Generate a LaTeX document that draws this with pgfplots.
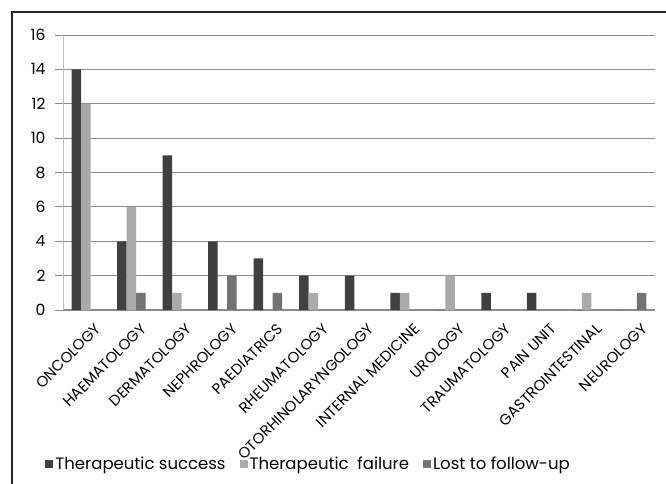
\documentclass[border=0pt]{standalone}
\usepackage{pgfplots}
\pgfplotsset{compat=1.18}
\usepackage{fontspec}
\setmainfont{Poppins}
\definecolor{cSucc}{RGB}{64,64,64}
\definecolor{cFail}{RGB}{170,170,170}
\definecolor{cLost}{RGB}{115,115,115}
\definecolor{cGrid}{RGB}{140,140,140}

% success, failure, lost
\pgfplotstableread{
x s f l
0 14 12 0
1 4 6 1
2 9 1 0
3 4 0 2
4 3 0 1
5 2 1 0
6 2 0 0
7 1 1 0
8 0 2 0
9 1 0 0
10 1 0 0
11 0 1 0
12 0 0 1
}\data

\begin{document}
\begin{tikzpicture}
\path[use as bounding box] (0pt,0pt) rectangle (666pt,-484pt);
\draw[line width=2.2pt,black!85] (12pt,-484pt) -- (12pt,-12pt) -- (666pt,-12pt);
\begin{axis}[
    at={(63pt,-310pt)}, anchor=south west,
    width=592pt, height=275pt, scale only axis,
    ybar, bar width=9.5pt,
    xmin=-0.5, xmax=12.5,
    ymin=0, ymax=16, ytick={0,2,...,16},
    xtick=data,
    xticklabels={ONCOLOGY, HAEMATOLOGY, DERMATOLOGY, NEPHROLOGY, PAEDIATRICS, RHEUMATOLOGY, OTORHINOLARYNGOLOGY, INTERNAL MEDICINE, UROLOGY, TRAUMATOLOGY, PAIN UNIT, GASTROINTESTINAL, NEUROLOGY},
    xticklabel style={rotate=45, anchor=north east, font=\fontsize{15}{17}\selectfont, inner sep=1pt, xshift=4pt, yshift=-8pt},
    yticklabel style={font=\fontsize{15.5}{17}\selectfont, /pgf/number format/assume math mode=true, xshift=-6pt},
    axis x line*=bottom, axis y line*=left,
    x axis line style={cGrid, line width=1.2pt},
    y axis line style={black!25, line width=0.6pt},
    ymajorgrids, grid style={cGrid, line width=0.9pt},
    major tick length=8pt,
    xtick style={draw=none},
    ytick style={cGrid, line width=0.9pt},
    tick align=outside,
    enlarge y limits=false,
    legend style={at={(-0.035,-0.56)}, anchor=west, draw=none, fill=none,
        legend columns=3, font=\fontsize{16.5}{19}\selectfont,
        /tikz/every even column/.append style={column sep=12pt}},
    legend image code/.code={\fill[#1] (0pt,-4pt) rectangle (8pt,4pt);},
    legend cell align=left,
]
\addplot[fill=cSucc, draw=none, bar shift=-9.5pt] table[x=x,y=s]{\data};
\addplot[fill=cFail, draw=none, bar shift=0pt] table[x=x,y=f]{\data};
\addplot[fill=cLost, draw=none, bar shift=9.5pt] table[x=x,y=l]{\data};
\legend{Therapeutic success, Therapeutic\ \ failure, Lost to follow-up}
\end{axis}
\end{tikzpicture}
\end{document}
